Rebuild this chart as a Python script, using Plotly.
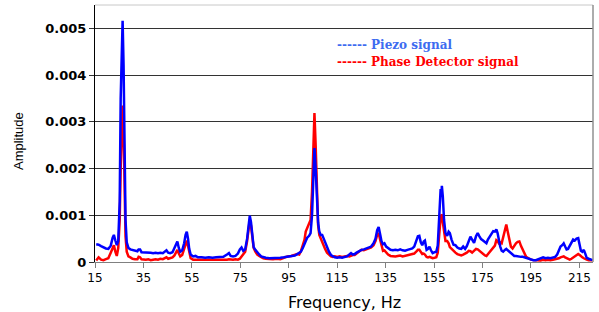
import plotly.graph_objects as go

# Frequency (Hz)
freq = [
    15.5, 16.5, 17.5, 18.5, 19.5, 20.5, 21.5, 22.3, 22.8, 23.4, 24.0, 24.6, 25.2, 25.6, 26.0, 26.4, 26.8, 27.2, 27.6, 28.1,
    28.8, 29.6, 30.5, 31.5, 32.5, 33.0, 33.6, 34.2, 35.0, 36.0, 37.0, 38.0, 39.0, 40.0, 41.0, 42.0, 43.0, 44.0, 44.5, 45.2,
    46.0, 47.0, 47.8, 48.6, 49.0, 49.6, 50.2, 51.0, 51.8, 52.4, 52.9, 53.4, 53.9, 54.5, 55.5, 56.5, 57.5, 59.0, 60.5, 62.0,
    63.5, 65.0, 66.5, 68.0, 69.5, 70.3, 71.0, 72.0, 73.0, 74.0, 74.8, 75.5, 76.2, 77.0, 77.8, 78.4, 78.9, 79.4, 79.9, 80.5,
    81.2, 82.0, 82.8, 83.6, 84.5, 85.5, 87.0, 88.5, 90.0, 91.5, 93.0, 94.5, 96.0, 97.5, 98.5, 99.3, 100.0, 100.8, 101.5, 102.0,
    102.6, 103.4, 104.0, 104.6, 105.1, 105.6, 106.1, 106.6, 107.1, 107.6, 108.2, 108.8, 109.4, 110.0, 110.8, 111.6, 112.4, 113.2, 114.0, 115.0,
    116.0, 117.0, 118.0, 119.0, 120.0, 120.7, 121.4, 122.2, 123.0, 124.0, 125.0, 126.0, 127.0, 128.0, 129.0, 130.0, 130.8, 131.5, 132.1, 132.7,
    133.3, 133.9, 134.5, 135.2, 136.0, 137.0, 138.0, 139.0, 140.0, 141.0, 142.0, 143.0, 144.0, 145.0, 146.0, 146.8, 147.6, 148.3, 148.9, 149.5,
    150.1, 150.7, 151.2, 151.9, 152.5, 153.1, 153.7, 154.4, 155.2, 155.9, 156.5, 157.0, 157.4, 157.7, 158.0, 158.2, 158.6, 159.1, 159.7, 160.4,
    161.0, 161.5, 162.2, 163.0, 163.8, 164.6, 165.4, 166.2, 167.0, 167.8, 168.5, 169.3, 170.0, 170.7, 171.5, 172.3, 173.0, 173.7, 174.4, 175.2,
    176.0, 176.6, 177.2, 178.0, 178.7, 179.4, 180.1, 180.7, 181.2, 181.7, 182.3, 182.9, 183.5, 184.2, 184.8, 185.4, 186.0, 186.7, 187.4, 188.1,
    188.8, 189.5, 190.2, 190.9, 191.6, 192.3, 193.0, 194.0, 195.0, 196.0, 197.0, 198.0, 199.0, 200.0, 201.0, 202.0, 203.0, 204.0, 205.0, 205.8,
    206.5, 207.2, 207.9, 208.5, 209.1, 209.7, 210.3, 211.0, 211.7, 212.4, 213.1, 213.8, 214.5, 215.1, 215.6, 216.2, 216.8, 217.4, 218.0, 218.8,
    219.6, 220.4,
]

# Piezo signal amplitude
piezo = [
    0.00038, 0.00037, 0.00034, 0.00031, 0.00029, 0.00028, 0.00035, 0.00052, 0.00058, 0.00046, 0.00036, 0.00045, 0.00130, 0.00350, 0.00470, 0.00516, 0.00420, 0.00200, 0.00090, 0.00042,
    0.00030, 0.00027, 0.00026, 0.00024, 0.00023, 0.00027, 0.00027, 0.00021, 0.00021, 0.00020, 0.00021, 0.00020, 0.00019, 0.00020, 0.00019, 0.00020, 0.00019, 0.00023, 0.00025, 0.00020,
    0.00019, 0.00021, 0.00030, 0.00042, 0.00044, 0.00030, 0.00022, 0.00025, 0.00040, 0.00058, 0.00065, 0.00050, 0.00028, 0.00016, 0.00012, 0.00013, 0.00010, 0.00010, 0.00009, 0.00010,
    0.00009, 0.00010, 0.00010, 0.00011, 0.00016, 0.00019, 0.00013, 0.00012, 0.00013, 0.00018, 0.00027, 0.00031, 0.00024, 0.00027, 0.00050, 0.00085, 0.00099, 0.00085, 0.00055, 0.00032,
    0.00026, 0.00020, 0.00016, 0.00012, 0.00010, 0.00009, 0.00008, 0.00008, 0.00008, 0.00009, 0.00010, 0.00011, 0.00012, 0.00014, 0.00017, 0.00019, 0.00022, 0.00030, 0.00038, 0.00045,
    0.00052, 0.00056, 0.00062, 0.00100, 0.00190, 0.00244, 0.00200, 0.00130, 0.00085, 0.00065, 0.00058, 0.00058, 0.00050, 0.00042, 0.00032, 0.00022, 0.00015, 0.00012, 0.00010, 0.00009,
    0.00010, 0.00009, 0.00011, 0.00012, 0.00016, 0.00019, 0.00016, 0.00017, 0.00020, 0.00024, 0.00026, 0.00027, 0.00029, 0.00031, 0.00033, 0.00040, 0.00050, 0.00068, 0.00075, 0.00060,
    0.00044, 0.00038, 0.00040, 0.00033, 0.00029, 0.00026, 0.00025, 0.00026, 0.00025, 0.00027, 0.00025, 0.00024, 0.00026, 0.00027, 0.00029, 0.00033, 0.00045, 0.00055, 0.00056, 0.00042,
    0.00036, 0.00044, 0.00046, 0.00026, 0.00028, 0.00033, 0.00025, 0.00019, 0.00021, 0.00022, 0.00035, 0.00090, 0.00150, 0.00156, 0.00140, 0.00163, 0.00140, 0.00090, 0.00062, 0.00056,
    0.00065, 0.00062, 0.00048, 0.00037, 0.00036, 0.00031, 0.00029, 0.00028, 0.00033, 0.00028, 0.00034, 0.00046, 0.00054, 0.00048, 0.00041, 0.00055, 0.00062, 0.00055, 0.00049, 0.00046,
    0.00042, 0.00040, 0.00048, 0.00055, 0.00062, 0.00066, 0.00065, 0.00070, 0.00062, 0.00046, 0.00033, 0.00024, 0.00022, 0.00026, 0.00028, 0.00025, 0.00022, 0.00020, 0.00015, 0.00013,
    0.00013, 0.00012, 0.00012, 0.00011, 0.00011, 0.00010, 0.00009, 0.00007, 0.00005, 0.00004, 0.00004, 0.00006, 0.00008, 0.00010, 0.00008, 0.00009, 0.00008, 0.00009, 0.00011, 0.00016,
    0.00026, 0.00033, 0.00036, 0.00040, 0.00033, 0.00027, 0.00028, 0.00035, 0.00042, 0.00048, 0.00046, 0.00050, 0.00051, 0.00038, 0.00024, 0.00022, 0.00026, 0.00018, 0.00009, 0.00007,
    0.00005, 0.00004,
]

# Phase detector signal amplitude
phase = [
    0.00003, 0.00010, 0.00005, 0.00004, 0.00006, 0.00008, 0.00020, 0.00033, 0.00036, 0.00022, 0.00013, 0.00030, 0.00090, 0.00200, 0.00300, 0.00335, 0.00280, 0.00130, 0.00055, 0.00022,
    0.00012, 0.00010, 0.00007, 0.00006, 0.00006, 0.00011, 0.00010, 0.00006, 0.00005, 0.00005, 0.00006, 0.00004, 0.00005, 0.00006, 0.00005, 0.00007, 0.00006, 0.00008, 0.00010, 0.00007,
    0.00008, 0.00010, 0.00014, 0.00024, 0.00026, 0.00018, 0.00012, 0.00015, 0.00028, 0.00040, 0.00046, 0.00035, 0.00018, 0.00008, 0.00005, 0.00005, 0.00004, 0.00004, 0.00005, 0.00004,
    0.00004, 0.00005, 0.00004, 0.00005, 0.00005, 0.00006, 0.00005, 0.00005, 0.00006, 0.00005, 0.00007, 0.00012, 0.00015, 0.00022, 0.00045, 0.00078, 0.00090, 0.00078, 0.00052, 0.00030,
    0.00022, 0.00016, 0.00013, 0.00010, 0.00008, 0.00007, 0.00006, 0.00006, 0.00007, 0.00006, 0.00009, 0.00012, 0.00013, 0.00015, 0.00017, 0.00016, 0.00023, 0.00036, 0.00048, 0.00065,
    0.00073, 0.00080, 0.00090, 0.00150, 0.00260, 0.00319, 0.00250, 0.00140, 0.00080, 0.00058, 0.00050, 0.00045, 0.00038, 0.00028, 0.00020, 0.00015, 0.00012, 0.00011, 0.00012, 0.00011,
    0.00012, 0.00011, 0.00012, 0.00013, 0.00012, 0.00014, 0.00015, 0.00015, 0.00018, 0.00021, 0.00026, 0.00025, 0.00027, 0.00030, 0.00031, 0.00036, 0.00045, 0.00058, 0.00062, 0.00048,
    0.00032, 0.00024, 0.00025, 0.00020, 0.00016, 0.00013, 0.00012, 0.00012, 0.00013, 0.00014, 0.00012, 0.00013, 0.00014, 0.00015, 0.00016, 0.00018, 0.00022, 0.00026, 0.00026, 0.00020,
    0.00017, 0.00018, 0.00016, 0.00011, 0.00010, 0.00011, 0.00009, 0.00008, 0.00009, 0.00010, 0.00020, 0.00050, 0.00085, 0.00095, 0.00100, 0.00102, 0.00085, 0.00060, 0.00045, 0.00045,
    0.00040, 0.00032, 0.00028, 0.00024, 0.00020, 0.00017, 0.00015, 0.00014, 0.00016, 0.00018, 0.00020, 0.00024, 0.00023, 0.00020, 0.00024, 0.00028, 0.00027, 0.00024, 0.00020, 0.00017,
    0.00014, 0.00013, 0.00017, 0.00022, 0.00026, 0.00029, 0.00035, 0.00047, 0.00045, 0.00040, 0.00042, 0.00040, 0.00055, 0.00072, 0.00080, 0.00065, 0.00048, 0.00033, 0.00029, 0.00036,
    0.00040, 0.00043, 0.00044, 0.00034, 0.00026, 0.00016, 0.00011, 0.00008, 0.00005, 0.00004, 0.00004, 0.00004, 0.00003, 0.00005, 0.00004, 0.00005, 0.00004, 0.00005, 0.00006, 0.00007,
    0.00008, 0.00010, 0.00011, 0.00012, 0.00010, 0.00008, 0.00006, 0.00005, 0.00007, 0.00010, 0.00013, 0.00016, 0.00017, 0.00015, 0.00012, 0.00010, 0.00008, 0.00006, 0.00005, 0.00004,
    0.00004, 0.00004,
]

x_ticks = [15, 35, 55, 75, 95, 115, 135, 155, 175, 195, 215]
y_ticks = [0, 0.001, 0.002, 0.003, 0.004, 0.005]
y_tick_labels = ["0", "0.001", "0.002", "0.003", "0.004", "0.005"]

fig = go.Figure()
fig.add_trace(go.Scatter(x=freq, y=phase, mode="lines", name="Phase Detector signal",
                         line=dict(color="#FF0000", width=2.5), showlegend=False))
fig.add_trace(go.Scatter(x=freq, y=piezo, mode="lines", name="Piezo signal",
                         line=dict(color="#0000FF", width=2.5), showlegend=False))

fig.update_layout(
    width=599, height=312,
    margin=dict(l=95, r=6, t=5, b=50, autoexpand=False),
    paper_bgcolor="white", plot_bgcolor="white",
    xaxis=dict(
        range=[15, 220.6], tickvals=x_ticks, ticks="outside", ticklen=5, tickcolor="#808080",
        showgrid=False, zeroline=False, showline=True, linecolor="#808080", linewidth=1,
        automargin=False,
        tickfont=dict(family="DejaVu Sans", size=12, color="black"),
    ),
    yaxis=dict(
        range=[0, 0.0055], tickvals=y_ticks, ticktext=y_tick_labels, ticks="outside", ticklen=5,
        tickcolor="#333", showgrid=True, gridcolor="#333", gridwidth=1, zeroline=False,
        showline=True, linecolor="black", linewidth=1, automargin=False,
        tickfont=dict(family="DejaVu Sans", size=13, color="black", weight="bold"),
    ),
    annotations=[
        dict(text="Frequency, Hz", xref="paper", yref="paper", x=0.5, y=-0.156,
             xanchor="center", yanchor="middle", showarrow=False,
             font=dict(family="DejaVu Sans", size=16, color="black")),
        dict(text="Amplitude", xref="paper", yref="paper", x=-0.155, y=0.47, textangle=-90,
             xanchor="center", yanchor="middle", showarrow=False,
             font=dict(family="Arial, Liberation Sans", size=13, color="black")),
        dict(text="------ Piezo signal", xref="paper", yref="paper", x=0.482, y=0.845, xanchor="left",
             yanchor="middle", showarrow=False,
             font=dict(family="DejaVu Serif", size=12, color="#3D6BF0", weight="bold")),
        dict(text="------ Phase Detector signal", xref="paper", yref="paper", x=0.482, y=0.779,
             xanchor="left", yanchor="middle", showarrow=False,
             font=dict(family="DejaVu Serif", size=12, color="#FF0000", weight="bold")),
    ],
    shapes=[
        dict(type="line", xref="paper", yref="paper", x0=0, x1=1, y0=1, y1=1,
             line=dict(color="#C8C8C8", width=1)),
        dict(type="line", xref="paper", yref="paper", x0=1, x1=1, y0=0, y1=1,
             line=dict(color="#909090", width=1.5)),
    ],
)

fig.write_html("out.html", config={"displayModeBar": False},
               post_script="document.body.style.margin='0';document.body.style.overflow='hidden';")
